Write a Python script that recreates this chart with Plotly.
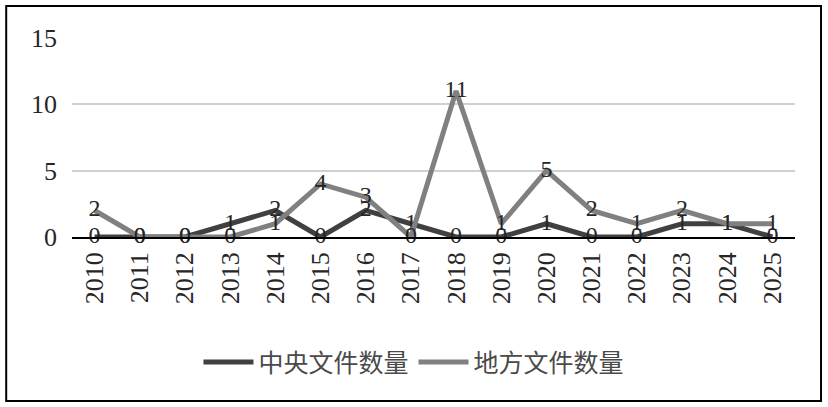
import plotly.graph_objects as go

years = [str(y) for y in range(2010, 2026)]
central_docs = [0, 0, 0, 1, 2, 0, 2, 1, 0, 0, 1, 0, 0, 1, 1, 0]
local_docs = [2, 0, 0, 0, 1, 4, 3, 0, 11, 1, 5, 2, 1, 2, 1, 1]
y_ticks = [0, 5, 10, 15]

serif = "Liberation Serif"
cjk = "Noto Sans CJK SC"

fig = go.Figure()

fig.add_trace(go.Scatter(
    x=years, y=central_docs, name="中央文件数量",
    mode="lines+text", text=central_docs, textposition="middle center",
    line=dict(color="#404040", width=5),
    textfont=dict(family=serif, size=24, color="#262626"),
    cliponaxis=False,
))
fig.add_trace(go.Scatter(
    x=years, y=local_docs, name="地方文件数量",
    mode="lines+text", text=local_docs, textposition="middle center",
    line=dict(color="#808080", width=5),
    textfont=dict(family=serif, size=24, color="#262626"),
    cliponaxis=False,
))

# outer frame around the whole chart
fig.add_shape(type="rect", xref="paper", yref="paper",
              x0=-0.091, x1=1.036, y0=-0.824, y1=1.161,
              line=dict(color="black", width=2), layer="below")

fig.update_layout(
    width=828, height=407,
    margin=dict(l=72, r=33, t=38, b=170),
    plot_bgcolor="white", paper_bgcolor="white",
    showlegend=True,
    legend=dict(orientation="h", x=0.473, y=-0.63, xanchor="center", yanchor="middle",
                font=dict(family=cjk, size=25, color="#4a4a4a"),
                traceorder="normal", itemwidth=50),
)
fig.update_xaxes(
    type="category", range=[-0.5, 15.5],
    tickangle=-90, tickfont=dict(family=serif, size=26, color="#262626"),
    showline=True, linecolor="black", linewidth=1.5,
    showgrid=False, ticks="", ticklabelstandoff=3,
)
fig.update_yaxes(
    range=[0, 15], tickvals=y_ticks,
    tickfont=dict(family=serif, size=26, color="#262626"),
    showgrid=True, gridcolor="#d0d0d0", gridwidth=2,
    zeroline=False, showline=False, ticks="", ticklabelstandoff=14,
)

fig.write_html("out.html", config={"displayModeBar": False},
               post_script="document.body.style.margin='0';")
